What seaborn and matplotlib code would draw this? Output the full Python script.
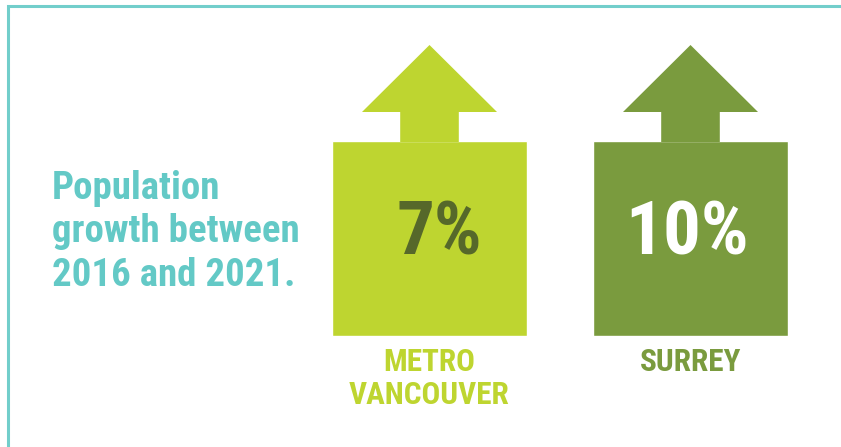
import matplotlib.pyplot as plt
import seaborn as sns
import pandas as pd
from matplotlib.patches import Polygon, Rectangle
from matplotlib import font_manager as fm

# data
regions = ["METRO\nVANCOUVER", "SURREY"]
growth_pct = [7, 10]
bar_colors = ["#BED530", "#7A9B3E"]
value_colors = ["#56682A", "#FFFFFF"]
title_text = "Population\ngrowth between\n2016 and 2021."

TEAL = "#63C9C6"

W, H = 841, 447
box_h = 195  # boxes are equal-size icons, not scaled to the value
label_nudge = [10, -3]  # horizontal nudge of the % labels, in pixels

sns.set_theme(style="white")
plt.rcParams["font.family"] = ["DejaVu Sans"]


def condensed_bold():
    # look for a narrow / condensed bold face among installed fonts
    cands = []
    for f in fm.fontManager.ttflist:
        stretch = str(f.stretch)
        narrow = ("Narrow" in f.name or "Condensed" in f.name
                  or stretch in ("condensed", "semi-condensed", "extra-condensed")
                  or "Condensed" in f.fname or "Narrow" in f.fname)
        bold = f.weight in (600, 700, "bold", "semibold") or "Bold" in f.fname
        if narrow and bold and "Oblique" not in f.fname and "Italic" not in f.fname:
            cands.append(f)
    order = ["Liberation Sans Narrow", "Roboto Condensed", "Open Sans Condensed",
             "Noto Sans", "DejaVu Sans"]
    cands.sort(key=lambda f: order.index(f.name) if f.name in order else 99)
    if cands:
        return fm.FontProperties(fname=cands[0].fname)
    return fm.FontProperties(family="DejaVu Sans", weight="bold")


def fp(size):
    p = base.copy()
    p.set_size(size)
    return p


base = condensed_bold()

fig = plt.figure(figsize=(W / 100, H / 100), dpi=100)
fig.patch.set_facecolor("white")

# frame (runs off the right and bottom edges)
fig.patches.append(Rectangle((7.5 / W, -0.2), 1.2, (H - 5.5) / H + 0.2,
                             transform=fig.transFigure, fill=False,
                             edgecolor=TEAL, lw=2.2, alpha=0.9))

# axes in pixel units vertically, category units horizontally
bottom_px = 336
ax = fig.add_axes([299 / W, (H - bottom_px) / H, 522 / W, bottom_px / H])
df = pd.DataFrame({"region": regions, "box": [box_h] * len(regions),
                   "growth": growth_pct})
sns.barplot(data=df, x="region", y="box", hue="region", palette=bar_colors,
            width=195 / 261, legend=False, ax=ax, saturation=1)
ax.set_xlim(-0.5, 1.5)
ax.set_ylim(0, bottom_px)
ax.axis("off")

px = 1 / 261  # one pixel in category units
for bar, color, val, vcol, name, nudge in zip(ax.patches, bar_colors,
                                              df["growth"], value_colors,
                                              regions, label_nudge):
    cx = bar.get_x() + bar.get_width() / 2
    top = bar.get_height()
    tri_half = 67.5 * px
    stem_half = 29.3 * px
    arrow = Polygon([(cx - stem_half, top - 1), (cx - stem_half, top + 29),
                     (cx - tri_half, top + 29), (cx, top + 96),
                     (cx + tri_half, top + 29), (cx + stem_half, top + 29),
                     (cx + stem_half, top - 1)],
                    closed=True, facecolor=color, edgecolor="none")
    ax.add_patch(arrow)
    ax.text(cx + nudge * px, top / 2 + 4, f"{val}%", ha="center",
            va="center", fontproperties=fp(54), color=vcol)
    ax.text(cx, -11, name, ha="center", va="top", fontproperties=fp(22.5),
            color=color, linespacing=1.12, clip_on=False)

fig.text(52 / W, 1 - 232 / H, title_text, ha="left", va="center",
         fontproperties=fp(28), color=TEAL, linespacing=1.24)

fig.savefig("out.png", dpi=100)
